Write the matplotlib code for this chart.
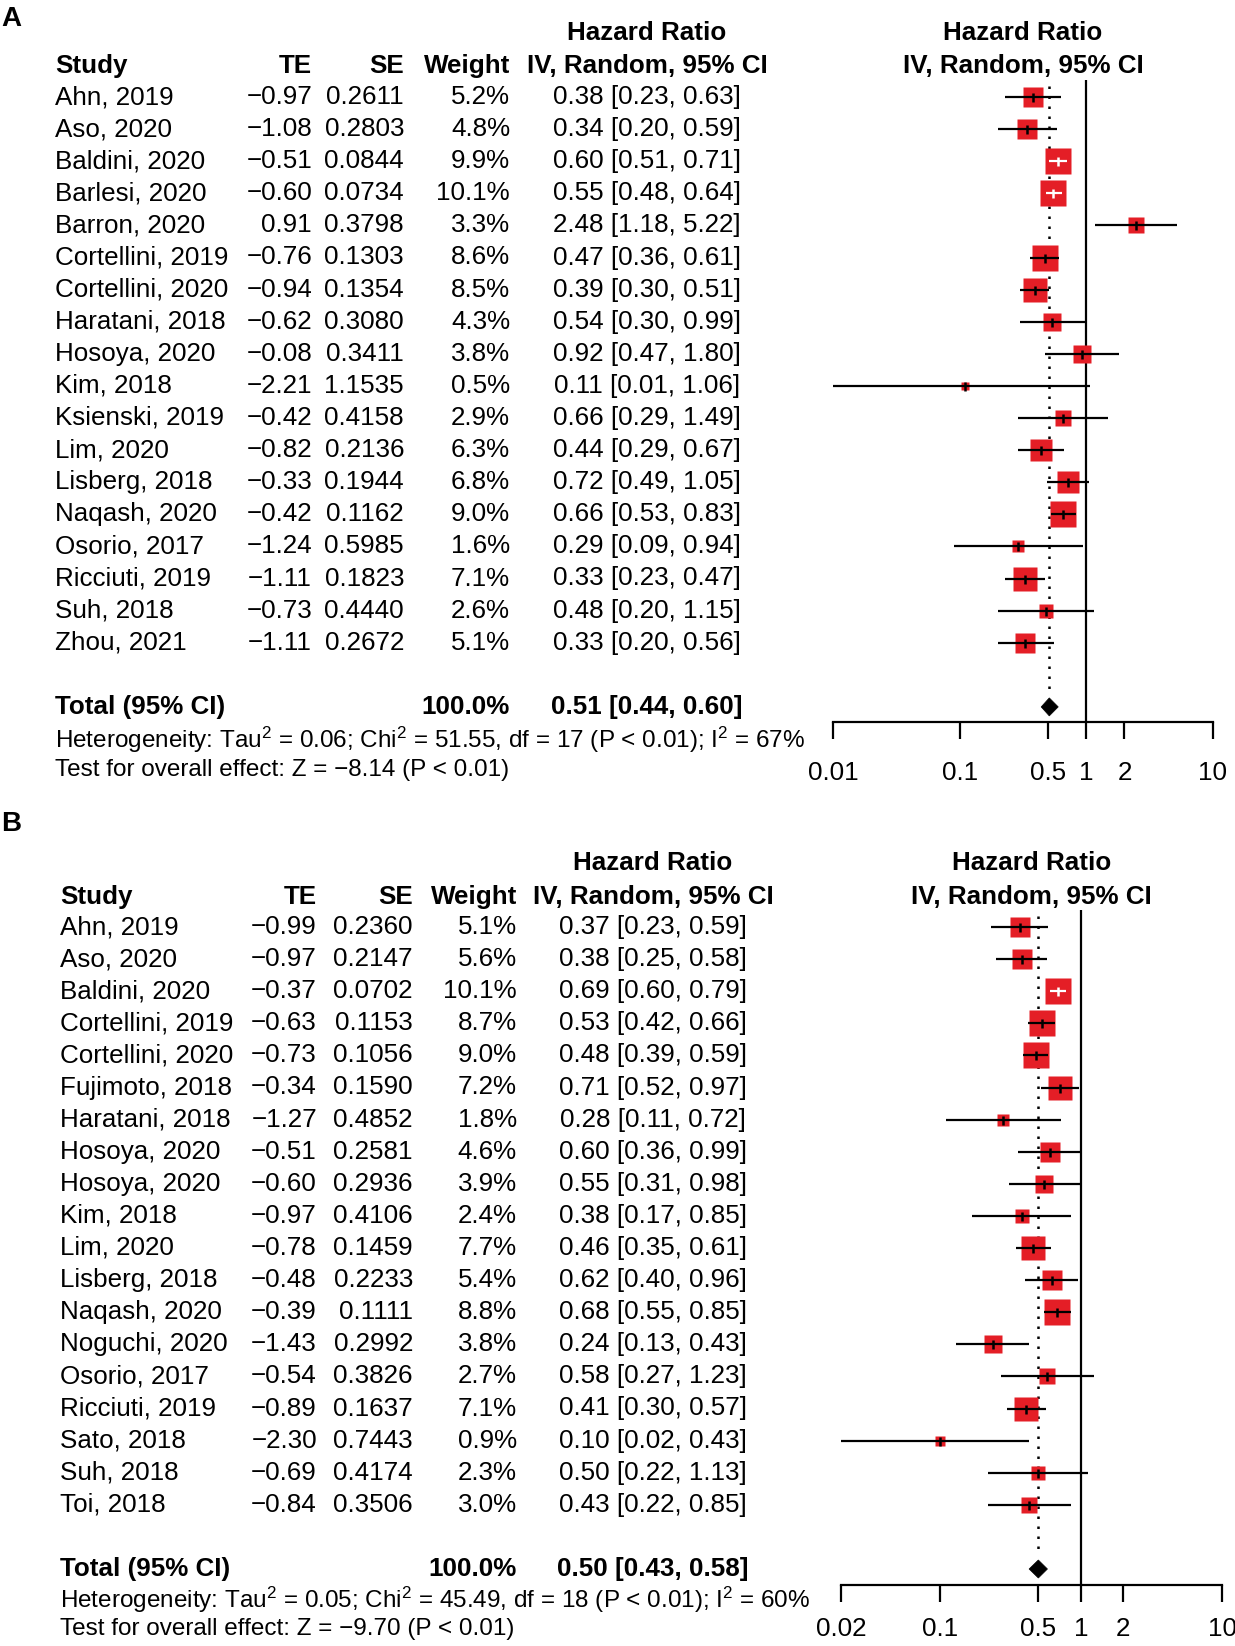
import matplotlib
matplotlib.use('Agg')
import matplotlib.pyplot as plt
import matplotlib.transforms as mtransforms
from matplotlib.patches import Polygon
from matplotlib.ticker import NullLocator
import numpy as np

plt.rcParams['font.family'] = ['Liberation Sans', 'DejaVu Sans']
plt.rcParams['mathtext.fontset'] = 'custom'
plt.rcParams['mathtext.rm'] = 'Liberation Sans'
plt.rcParams['mathtext.it'] = 'Liberation Sans:italic'
plt.rcParams['mathtext.bf'] = 'Liberation Sans:bold'

# ---------------- data: panel A ----------------
studies_a = ["Ahn, 2019", "Aso, 2020", "Baldini, 2020", "Barlesi, 2020", "Barron, 2020",
             "Cortellini, 2019", "Cortellini, 2020", "Haratani, 2018", "Hosoya, 2020",
             "Kim, 2018", "Ksienski, 2019", "Lim, 2020", "Lisberg, 2018", "Naqash, 2020",
             "Osorio, 2017", "Ricciuti, 2019", "Suh, 2018", "Zhou, 2021"]
te_a = [-0.97, -1.08, -0.51, -0.60, 0.91, -0.76, -0.94, -0.62, -0.08, -2.21, -0.42,
        -0.82, -0.33, -0.42, -1.24, -1.11, -0.73, -1.11]
se_a = [0.2611, 0.2803, 0.0844, 0.0734, 0.3798, 0.1303, 0.1354, 0.3080, 0.3411, 1.1535,
        0.4158, 0.2136, 0.1944, 0.1162, 0.5985, 0.1823, 0.4440, 0.2672]
weight_a = [5.2, 4.8, 9.9, 10.1, 3.3, 8.6, 8.5, 4.3, 3.8, 0.5, 2.9, 6.3, 6.8, 9.0, 1.6,
            7.1, 2.6, 5.1]
hr_a = [0.38, 0.34, 0.60, 0.55, 2.48, 0.47, 0.39, 0.54, 0.92, 0.11, 0.66, 0.44, 0.72,
        0.66, 0.29, 0.33, 0.48, 0.33]
lo_a = [0.23, 0.20, 0.51, 0.48, 1.18, 0.36, 0.30, 0.30, 0.47, 0.01, 0.29, 0.29, 0.49,
        0.53, 0.09, 0.23, 0.20, 0.20]
hi_a = [0.63, 0.59, 0.71, 0.64, 5.22, 0.61, 0.51, 0.99, 1.80, 1.06, 1.49, 0.67, 1.05,
        0.83, 0.94, 0.47, 1.15, 0.56]
total_a = (0.51, 0.44, 0.60)
total_weight_a = "100.0%"
het_a = r"Heterogeneity: Tau$^2$ = 0.06; Chi$^2$ = 51.55, df = 17 (P < 0.01); I$^2$ = 67%"
test_a = "Test for overall effect: Z = \u22128.14 (P < 0.01)"
ticks_a = [0.01, 0.1, 0.5, 1, 2, 10]
ticklabels_a = ["0.01", "0.1", "0.5", "1", "2", "10"]

# ---------------- data: panel B ----------------
studies_b = ["Ahn, 2019", "Aso, 2020", "Baldini, 2020", "Cortellini, 2019", "Cortellini, 2020",
             "Fujimoto, 2018", "Haratani, 2018", "Hosoya, 2020", "Hosoya, 2020", "Kim, 2018",
             "Lim, 2020", "Lisberg, 2018", "Naqash, 2020", "Noguchi, 2020", "Osorio, 2017",
             "Ricciuti, 2019", "Sato, 2018", "Suh, 2018", "Toi, 2018"]
te_b = [-0.99, -0.97, -0.37, -0.63, -0.73, -0.34, -1.27, -0.51, -0.60, -0.97, -0.78,
        -0.48, -0.39, -1.43, -0.54, -0.89, -2.30, -0.69, -0.84]
se_b = [0.2360, 0.2147, 0.0702, 0.1153, 0.1056, 0.1590, 0.4852, 0.2581, 0.2936, 0.4106,
        0.1459, 0.2233, 0.1111, 0.2992, 0.3826, 0.1637, 0.7443, 0.4174, 0.3506]
weight_b = [5.1, 5.6, 10.1, 8.7, 9.0, 7.2, 1.8, 4.6, 3.9, 2.4, 7.7, 5.4, 8.8, 3.8, 2.7,
            7.1, 0.9, 2.3, 3.0]
hr_b = [0.37, 0.38, 0.69, 0.53, 0.48, 0.71, 0.28, 0.60, 0.55, 0.38, 0.46, 0.62, 0.68,
        0.24, 0.58, 0.41, 0.10, 0.50, 0.43]
lo_b = [0.23, 0.25, 0.60, 0.42, 0.39, 0.52, 0.11, 0.36, 0.31, 0.17, 0.35, 0.40, 0.55,
        0.13, 0.27, 0.30, 0.02, 0.22, 0.22]
hi_b = [0.59, 0.58, 0.79, 0.66, 0.59, 0.97, 0.72, 0.99, 0.98, 0.85, 0.61, 0.96, 0.85,
        0.43, 1.23, 0.57, 0.43, 1.13, 0.85]
total_b = (0.50, 0.43, 0.58)
total_weight_b = "100.0%"
het_b = r"Heterogeneity: Tau$^2$ = 0.05; Chi$^2$ = 45.49, df = 18 (P < 0.01); I$^2$ = 60%"
test_b = "Test for overall effect: Z = \u22129.70 (P < 0.01)"
ticks_b = [0.02, 0.1, 0.5, 1, 2, 10]
ticklabels_b = ["0.02", "0.1", "0.5", "1", "2", "10"]

# ---------------- layout (pixels) ----------------
W, H, DPI = 1235, 1646, 100
FS = 18.7
FS_HET = 17.5
RED = '#E41E26'
PX = 72.0 / DPI  # points per pixel

layout_a = dict(label_y=19, hdr1=33, hdr2=66, row0=97, dy=32.1, vtop=80, axis_y=722,
                x0=833, x1=1213, study_x=55, te_x=312, se_x=404, wt_x=510, hr_x=647,
                het_y=740, test_y=770, pad=16)
layout_b = dict(label_y=824, hdr1=863, hdr2=897, row0=927, dy=32.1, vtop=910, axis_y=1585,
                x0=841, x1=1222, study_x=60, te_x=317, se_x=413, wt_x=517, hr_x=653,
                het_y=1600, test_y=1629, pad=11)

fig = plt.figure(figsize=(W / DPI, H / DPI), dpi=DPI)


def fmt_num(v, nd):
    s = f"{v:.{nd}f}"
    return s.replace('-', '\u2212')


def draw_panel(label, studies, te, se, wt, hr, lo, hi, total, total_wt, het, test, ticks,
               ticklabels, L):
    n = len(studies)
    row0, dy = L['row0'], L['dy']
    ax = fig.add_axes([L['x0'] / W, 1 - L['axis_y'] / H,
                       (L['x1'] - L['x0']) / W, (L['axis_y'] - L['vtop']) / H])
    ax.set_xscale('log')
    ax.set_xlim(ticks[0], ticks[-1])
    ax.set_ylim((L['axis_y'] - row0) / dy, (L['vtop'] - row0) / dy)
    ax.patch.set_alpha(0)
    for s in ['left', 'right', 'top']:
        ax.spines[s].set_visible(False)
    ax.spines['bottom'].set_bounds(ticks[0], ticks[-1])
    ax.spines['bottom'].set_linewidth(1.6)
    ax.set_xticks(ticks)
    ax.set_xticklabels(ticklabels)
    ax.xaxis.set_minor_locator(NullLocator())
    ax.tick_params(axis='x', direction='out', length=17 * PX, width=1.6, pad=L['pad'],
                   labelsize=FS)
    ax.set_yticks([])

    def ry(py):
        return (py - row0) / dy

    tr = mtransforms.blended_transform_factory(fig.transFigure, ax.transData)

    # reference line and pooled estimate line
    ax.axvline(1, color='black', lw=1.6, zorder=1)
    tot_hr, tot_lo, tot_hi = total
    ax.plot([tot_hr, tot_hr], [-0.35, n + 1 - 0.5], color='black', lw=1.8,
            linestyle=(0, (1, 3.0)), zorder=1)

    # px per decade for deciding line colour inside squares
    ppd = (L['x1'] - L['x0']) / (np.log10(ticks[-1]) - np.log10(ticks[0]))
    for i in range(n):
        side_px = 7.69 * np.sqrt(wt[i]) + 2.56
        ax.plot([hr[i]], [i], marker='s', ms=side_px * PX, color=RED, mec='none',
                zorder=2, clip_on=False)
        ci_px = (np.log10(hi[i]) - np.log10(lo[i])) * ppd
        c = 'white' if ci_px < 0.8 * side_px else 'black'
        ax.plot([lo[i], hi[i]], [i, i], color=c, lw=1.6, solid_capstyle='butt',
                zorder=3, clip_on=False)
        ax.plot([hr[i]], [i], marker='|', ms=9 * PX, mew=1.8, color=c, zorder=3,
                clip_on=False)

    ytot = n + 1
    h = 9.0 / dy
    diamond = Polygon([[tot_lo, ytot], [tot_hr, ytot - h], [tot_hi, ytot], [tot_hr, ytot + h]],
                      closed=True, facecolor='black', edgecolor='black', lw=0.5, zorder=3,
                      clip_on=False)
    ax.add_patch(diamond)

    # table texts
    fx = lambda px: px / W
    kw = dict(transform=tr, fontsize=FS, va='center', clip_on=False)
    for i in range(n):
        ax.text(fx(L['study_x']), i, studies[i], ha='left', **kw)
        ax.text(fx(L['te_x']), i, fmt_num(te[i], 2), ha='right', **kw)
        ax.text(fx(L['se_x']), i, fmt_num(se[i], 4), ha='right', **kw)
        ax.text(fx(L['wt_x']), i, f"{wt[i]:.1f}%", ha='right', **kw)
        ax.text(fx(L['hr_x']), i, f"{hr[i]:.2f} [{lo[i]:.2f}, {hi[i]:.2f}]", ha='center', **kw)

    # total row
    ax.text(fx(L['study_x']), ytot, "Total (95% CI)", ha='left', fontweight='bold', **kw)
    ax.text(fx(L['wt_x']), ytot, total_wt, ha='right', fontweight='bold', **kw)
    ax.text(fx(L['hr_x']), ytot, f"{tot_hr:.2f} [{tot_lo:.2f}, {tot_hi:.2f}]", ha='center',
            fontweight='bold', **kw)

    # headers
    hy1, hy2 = ry(L['hdr1']), ry(L['hdr2'])
    ax.text(fx(L['study_x']), hy2, "Study", ha='left', fontweight='bold', **kw)
    ax.text(fx(L['te_x']), hy2, "TE", ha='right', fontweight='bold', **kw)
    ax.text(fx(L['se_x']), hy2, "SE", ha='right', fontweight='bold', **kw)
    ax.text(fx(L['wt_x']), hy2, "Weight", ha='right', fontweight='bold', **kw)
    ax.text(fx(L['hr_x']), hy1, "Hazard Ratio", ha='center', fontweight='bold', **kw)
    ax.text(fx(L['hr_x']), hy2, "IV, Random, 95% CI", ha='center', fontweight='bold', **kw)
    xc = (L['x0'] + L['x1']) / 2
    ax.text(fx(xc), hy1, "Hazard Ratio", ha='center', fontweight='bold', **kw)
    ax.text(fx(xc), hy2, "IV, Random, 95% CI", ha='center', fontweight='bold', **kw)

    # heterogeneity / test
    kw2 = dict(kw)
    kw2['fontsize'] = FS_HET
    ax.text(fx(L['study_x']), ry(L['het_y']), het, ha='left', **kw2)
    ax.text(fx(L['study_x']), ry(L['test_y']), test, ha='left', **kw2)

    # panel label
    kw3 = dict(kw)
    kw3['fontsize'] = 20
    ax.text(fx(1), ry(L['label_y']), label, ha='left', fontweight='bold', **kw3)


draw_panel("A", studies_a, te_a, se_a, weight_a, hr_a, lo_a, hi_a, total_a, total_weight_a,
           het_a, test_a, ticks_a, ticklabels_a, layout_a)
draw_panel("B", studies_b, te_b, se_b, weight_b, hr_b, lo_b, hi_b, total_b, total_weight_b,
           het_b, test_b, ticks_b, ticklabels_b, layout_b)

fig.savefig("out.png", dpi=DPI, facecolor='white')
